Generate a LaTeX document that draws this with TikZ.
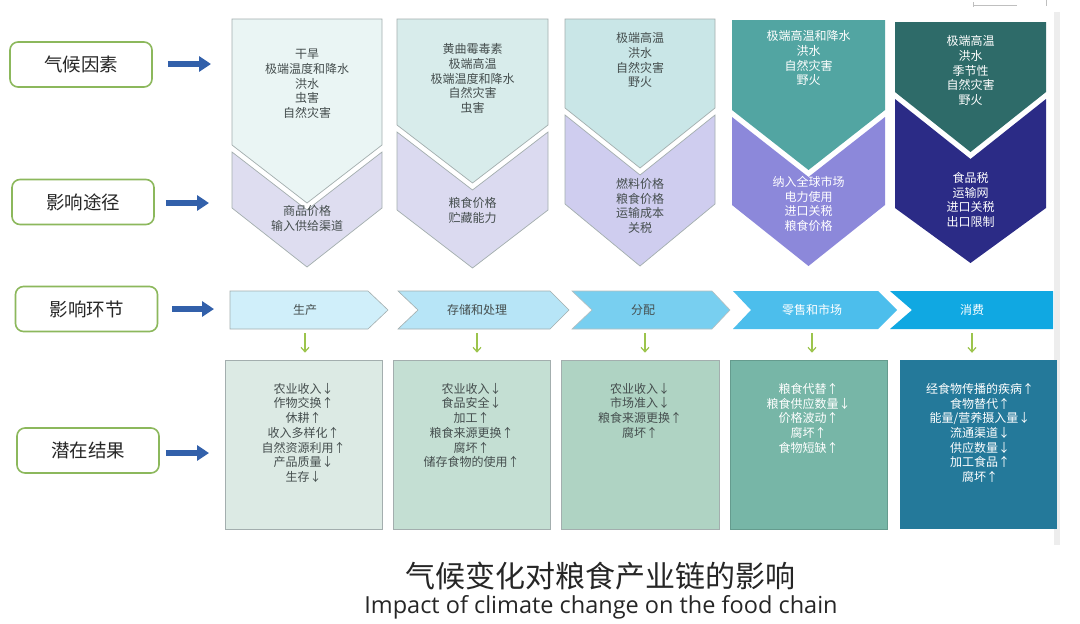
\documentclass[tikz,border=0pt]{standalone}
\usepackage{fontspec}
\setmainfont{Noto Sans CJK SC}
\newfontfamily\latinfont{Open Sans}
\usetikzlibrary{arrows.meta}
\definecolor{txtgray}{HTML}{454E4E}
\definecolor{edgegray}{HTML}{A3AEAE}
\definecolor{uA}{HTML}{EAF5F4}
\definecolor{uB}{HTML}{D8ECEB}
\definecolor{uC}{HTML}{C9E6E7}
\definecolor{uD}{HTML}{52A5A2}
\definecolor{uE}{HTML}{2E6B69}
\definecolor{lA}{HTML}{DEDDF0}
\definecolor{lB}{HTML}{DBDAF0}
\definecolor{lC}{HTML}{CFCDEF}
\definecolor{lD}{HTML}{8C88DA}
\definecolor{lE}{HTML}{2B2B86}
\definecolor{sA}{HTML}{D0EFFA}
\definecolor{sB}{HTML}{B7E5F7}
\definecolor{sC}{HTML}{78CFF0}
\definecolor{sD}{HTML}{4CBEEC}
\definecolor{sE}{HTML}{10A8E2}
\definecolor{bA}{HTML}{DCEAE4}
\definecolor{bB}{HTML}{C4DFD3}
\definecolor{bC}{HTML}{AFD3C3}
\definecolor{bD}{HTML}{77B6A7}
\definecolor{bE}{HTML}{24799A}
\definecolor{lblgreen}{HTML}{8CB85C}
\definecolor{arrblue}{HTML}{3260AA}
\definecolor{arrgreen}{HTML}{9CC44C}
\tikzset{
  chev/.style={draw=edgegray, line width=0.7pt},
  lines/.style={align=center, inner sep=0pt, anchor=north, text=txtgray,
    font=\fontsize{12}{14.7}\selectfont},
  wlines/.style={lines, text=white},
  slabel/.style={inner sep=0pt, font=\fontsize{12}{14}\selectfont, text=txtgray},
  outbox/.style={draw=edgegray, line width=0.6pt, inner sep=0pt},
  sidelbl/.style={draw=lblgreen, line width=1.6pt, rounded corners=8pt, fill=white,
    minimum width=142pt, minimum height=45pt, inner sep=0pt,
    font=\fontsize{18.5}{20}\selectfont, text=black!85},
  bluearrow/.style={draw=arrblue, line width=6pt, -{Triangle[length=12pt,width=15pt]}},
  greenarrow/.style={draw=arrgreen, line width=1.2pt, -{Straight Barb[length=4.5pt,width=8pt]}}
}
\begin{document}
\begin{tikzpicture}[x=1pt,y=-1pt]
\useasboundingbox (0,0) rectangle (1080,624);
\fill[white] (0,0) rectangle (1080,624);
% page edge artifacts
\fill[black!7] (1054,12) rectangle (1060,545);
\draw[black!25, line width=0.6pt] (973,5) -- (1017,5);
\draw[black!25, line width=0.6pt] (973,2) -- (973,7);
\draw[black!25, line width=0.6pt] (1046,0) -- (1046,6);

% ===== top chevrons (climate factors) =====
% column 1
\path[chev, fill=uA] (232,19) -- (382,19) -- (382,145) -- (307,203) -- (232,145) -- cycle;
\path[chev, fill=lA] (232,152) -- (307,210) -- (382,152) -- (382,208) -- (307,267) -- (232,208) -- cycle;
% column 2
\path[chev, fill=uB] (397,19) -- (548,19) -- (548,125) -- (472.5,183) -- (397,125) -- cycle;
\path[chev, fill=lB] (397,132) -- (472.5,190) -- (548,132) -- (548,210) -- (472.5,268) -- (397,210) -- cycle;
% column 3
\path[chev, fill=uC] (565,19) -- (715,19) -- (715,108) -- (640,168) -- (565,108) -- cycle;
\path[chev, fill=lC] (565,115) -- (640,175) -- (715,115) -- (715,204) -- (640,266) -- (565,204) -- cycle;
% column 4
\path[fill=uD] (732,20) -- (885,20) -- (885,110) -- (808.5,170) -- (732,110) -- cycle;
\path[fill=lD] (732,117) -- (808.5,177) -- (885,117) -- (885,205) -- (808.5,266) -- (732,205) -- cycle;
% column 5
\path[fill=uE] (895,22) -- (1046,22) -- (1046,92) -- (970.5,152) -- (895,92) -- cycle;
\path[fill=lE] (895,99) -- (970.5,159) -- (1046,99) -- (1046,208) -- (970.5,263) -- (895,208) -- cycle;

\node[lines] (f1) at (307,49) {干旱\\极端温度和降水\\洪水\\虫害\\自然灾害};
\node[lines] (f2) at (472.5,43.5) {黄曲霉毒素\\极端高温\\极端温度和降水\\自然灾害\\虫害};
\node[lines] (f3) at (640,32.5) {极端高温\\洪水\\自然灾害\\野火};
\node[wlines] (f4) at (808.5,30.5) {极端高温和降水\\洪水\\自然灾害\\野火};
\node[wlines] (f5) at (970.5,35.5) {极端高温\\洪水\\季节性\\自然灾害\\野火};

\node[lines] (p1) at (307,205) {商品价格\\输入供给渠道};
\node[lines] (p2) at (472.5,197) {粮食价格\\贮藏能力};
\node[lines] (p3) at (640,178) {燃料价格\\粮食价格\\运输成本\\关税};
\node[wlines] (p4) at (808.5,176) {纳入全球市场\\电力使用\\进口关税\\粮食价格};
\node[wlines] (p5) at (970.5,172) {食品税\\运输网\\进口关税\\出口限制};

% ===== stage chevrons =====
\path[draw=edgegray, line width=0.6pt, fill=sA] (230,291) -- (368,291) -- (388,310) -- (368,329) -- (230,329) -- cycle;
\path[draw=edgegray, line width=0.6pt, fill=sB] (398,291) -- (550,291) -- (569,310) -- (550,329) -- (398,329) -- (418,310) -- cycle;
\path[draw=edgegray!80, line width=0.6pt, fill=sC] (572,291) -- (712,291) -- (730,310) -- (712,329) -- (572,329) -- (592,310) -- cycle;
\path[fill=sD] (733,291) -- (878,291) -- (897,310) -- (878,329) -- (733,329) -- (751,310) -- cycle;
\path[fill=sE] (890,291) -- (1053,291) -- (1053,329) -- (890,329) -- (912,310) -- cycle;

\node[slabel] (s1) at (305,310) {生产};
\node[slabel] (s2) at (477,310) {存储和处理};
\node[slabel] (s3) at (643,310) {分配};
\node[slabel, text=white] (s4) at (812,310) {零售和市场};
\node[slabel, text=white] (s5) at (972,310) {消费};

% ===== outcome boxes =====
\node[outbox, fill=bA, minimum width=157pt, minimum height=169pt] (b1) at (303.5,444.5) {};
\node[outbox, fill=bB, minimum width=157pt, minimum height=169pt] (b2) at (471.5,444.5) {};
\node[outbox, fill=bC, minimum width=158pt, minimum height=169pt] (b3) at (640,444.5) {};
\node[outbox, draw=bD!85!black, fill=bD, minimum width=157pt, minimum height=169pt] (b4) at (808.5,444.5) {};
\node[fill=bE, inner sep=0pt, minimum width=157pt, minimum height=169pt] (b5) at (978.5,444.5) {};

\node[lines] (o1) at (303.5,383) {农业收入↓\\作物交换↑\\休耕↑\\收入多样化↑\\自然资源利用↑\\产品质量↓\\生存↓};
\node[lines] (o2) at (471.5,383) {农业收入↓\\食品安全↓\\加工↑\\粮食来源更换↑\\腐坏↑\\储存食物的使用↑};
\node[lines] (o3) at (640,383) {农业收入↓\\市场准入↓\\粮食来源更换↑\\腐坏↑};
\node[wlines] (o4) at (808.5,383) {粮食代替↑\\粮食供应数量↓\\价格波动↑\\腐坏↑\\食物短缺↑};
\node[wlines] (o5) at (980,383) {经食物传播的疾病↑\\食物替代↑\\能量/营养摄入量↓\\流通渠道↓\\供应数量↓\\加工食品↑\\腐坏↑};

% green arrows stage -> outcome
\foreach \i/\x in {1/305, 2/477, 3/645, 4/812, 5/972} {
  \coordinate (g\i) at (\x,333);
  \draw[greenarrow] (g\i) -- (g\i |- b\i.north) [shorten >=7pt];
}

% ===== side labels =====
\node[sidelbl] (L1) at (81,64.5) {气候因素};
\node[sidelbl] (L2) at (83,202) {影响途径};
\node[sidelbl] (L3) at (86.5,309) {影响环节};
\node[sidelbl] (L4) at (88,450.5) {潜在结果};

\coordinate (a1) at (211,64);
\coordinate (a2) at (209,203);
\coordinate (a3) at (214,309);
\coordinate (a4) at (209,453);
\draw[bluearrow] ([xshift=15pt]L1.east |- a1) -- (a1);
\draw[bluearrow] ([xshift=11pt]L2.east |- a2) -- (a2);
\draw[bluearrow] ([xshift=14pt]L3.east |- a3) -- (a3);
\draw[bluearrow] ([xshift=6pt]L4.east |- a4) -- (a4);

% ===== title =====
\node[font=\fontsize{30}{33}\selectfont, text=black!85] (t1) at (600,576) {气候变化对粮食产业链的影响};
\node[font=\latinfont\fontsize{23.5}{26}\selectfont, text=black!85] (t2) at (601,607) {Impact of climate change on the food chain};
\end{tikzpicture}
\end{document}
